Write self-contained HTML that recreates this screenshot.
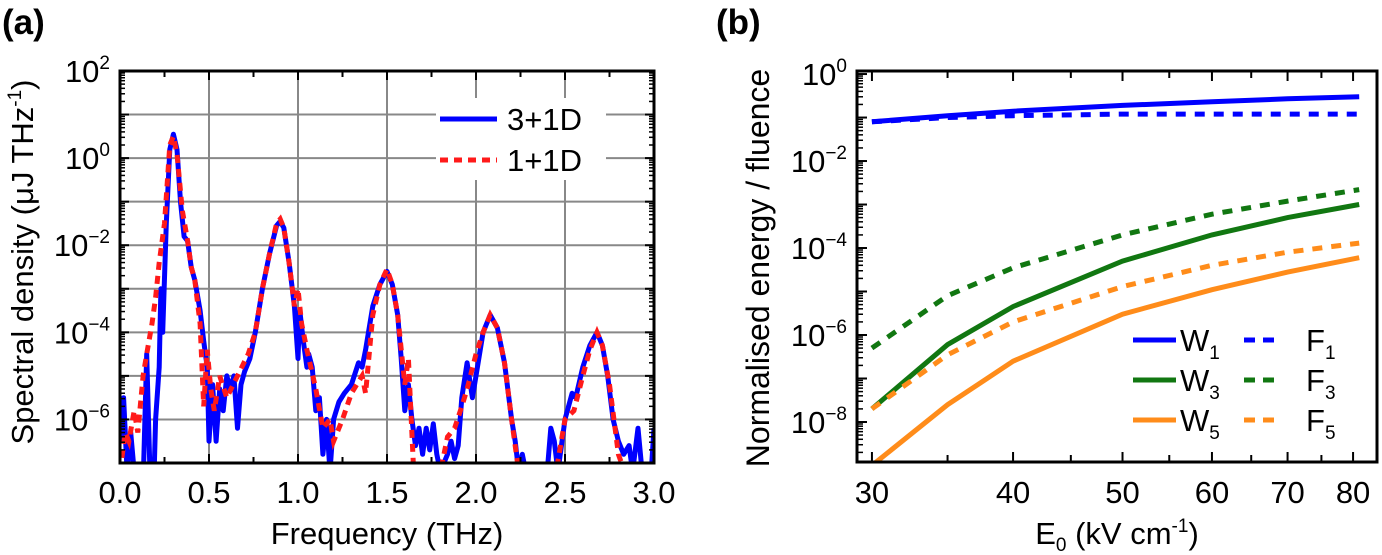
<!DOCTYPE html>
<html><head><meta charset="utf-8"><style>
body{margin:0;background:#fff;}
svg{display:block;font-family:"Liberation Sans",Arial,sans-serif;}
</style></head><body>
<svg id="fig" width="1382" height="555" viewBox="0 0 1382 555">
<defs>
<clipPath id="clipA"><rect x="120" y="71" width="534" height="392"/></clipPath>
<clipPath id="clipB"><rect x="857" y="71" width="520" height="391"/></clipPath>
</defs>
<text x="2" y="34" font-size="35" font-weight="bold">(a)</text>
<text x="716" y="34" font-size="35" font-weight="bold">(b)</text>
<g id="ga"></g>
<g id="gb"></g>
</svg>
<script>
// Panel (a): frequency (THz) and log10 spectral density
const blueF=[0,0.02,0.04,0.06,0.08,0.1,0.13,0.15,0.17,0.19,0.2,0.22,0.23,0.24,0.26,0.28,0.3,0.32,0.34,0.36,0.38,0.4,0.42,0.45,0.47,0.49,0.5,0.52,0.54,0.56,0.58,0.6,0.62,0.64,0.66,0.68,0.7,0.73,0.76,0.8,0.84,0.88,0.9,0.92,0.95,0.98,1.0,1.01,1.03,1.05,1.06,1.08,1.1,1.12,1.14,1.16,1.18,1.2,1.23,1.26,1.3,1.34,1.36,1.38,1.42,1.46,1.5,1.53,1.56,1.58,1.6,1.62,1.64,1.66,1.68,1.7,1.72,1.74,1.76,1.78,1.8,1.84,1.86,1.88,1.9,1.92,1.95,1.98,2.0,2.04,2.08,2.12,2.16,2.2,2.22,2.24,2.26,2.28,2.3,2.38,2.4,2.42,2.44,2.46,2.5,2.54,2.56,2.6,2.64,2.68,2.71,2.74,2.77,2.8,2.83,2.86,2.88,2.91,2.94,2.98,3.0];
const blueV=[-6.5,-5.5,-7.2,-6.3,-7.2,-7.5,-7.5,-4.5,-7.5,-7.5,-6,-4.8,-3.0,-4.0,-1.5,0.2,0.55,0.2,-1.0,-1.8,-1.9,-2.5,-2.8,-3.5,-4.2,-4.8,-6.5,-5.2,-6.5,-5.3,-5.8,-5.0,-5.3,-5.0,-6.2,-5.2,-4.9,-4.6,-4.0,-3.0,-2.2,-1.55,-1.45,-1.6,-2.4,-3.4,-4.6,-3.5,-4.2,-4.8,-4.5,-4.8,-5.8,-5.5,-6.8,-6.0,-7.2,-6.0,-5.6,-5.4,-5.2,-4.7,-4.8,-4.4,-3.4,-2.9,-2.6,-2.9,-3.6,-4.6,-5.8,-5.2,-6.0,-6.6,-6.2,-6.8,-6.2,-6.7,-6.1,-6.8,-7.2,-6.8,-6.5,-6.9,-6.6,-5.5,-4.7,-5.5,-5.0,-4.0,-3.6,-3.9,-4.7,-6.0,-6.5,-7.2,-6.8,-7.2,-7.5,-7.5,-7.2,-6.2,-6.5,-7.2,-6.0,-5.4,-5.5,-4.8,-4.3,-4.0,-4.3,-5.0,-6.0,-6.5,-6.8,-6.6,-7.2,-6.2,-7.5,-7.5,-6.2];
const redF=[0,0.03,0.05,0.08,0.1,0.13,0.15,0.18,0.2,0.22,0.25,0.28,0.3,0.32,0.35,0.38,0.4,0.42,0.45,0.47,0.49,0.51,0.53,0.56,0.6,0.66,0.72,0.76,0.8,0.84,0.88,0.9,0.92,0.95,0.98,1.0,1.02,1.05,1.1,1.14,1.18,1.2,1.25,1.3,1.36,1.38,1.42,1.46,1.5,1.53,1.56,1.6,1.62,1.65,1.7,1.8,1.84,1.88,1.92,1.95,2.0,2.04,2.08,2.12,2.16,2.2,2.25,2.45,2.5,2.55,2.6,2.64,2.68,2.71,2.75,2.8,2.86];
const redV=[-7.2,-6.3,-6.5,-5.8,-6.3,-5.0,-4.5,-3.8,-3.2,-2.4,-1.5,0.3,0.5,0.1,-1.2,-1.9,-2.5,-2.8,-3.8,-5.7,-4.4,-5.3,-5.8,-5.0,-5.5,-5.0,-4.5,-4.0,-3.0,-2.2,-1.5,-1.4,-1.6,-2.4,-3.4,-3.0,-3.8,-4.4,-5.3,-6.2,-6.0,-6.5,-6.0,-5.4,-5.0,-5.4,-3.6,-2.9,-2.55,-2.9,-3.6,-5.2,-4.6,-7.2,-7.5,-7.2,-6.4,-6.2,-5.7,-5.3,-4.5,-4.0,-3.6,-3.9,-4.7,-6.0,-7.5,-7.2,-6.0,-5.8,-5.0,-4.4,-4.0,-4.3,-5.2,-6.8,-7.5];
const aXTicks=[0,0.5,1.0,1.5,2.0,2.5,3.0];
const aXLabels=["0.0","0.5","1.0","1.5","2.0","2.5","3.0"];
const aYDecades=[2,1,0,-1,-2,-3,-4,-5,-6,-7];
const aYLabelExp=[2,0,-2,-4,-6];
// Panel (b)
const bE=[30,35,40,50,60,70,81];
const W1=[0.08,0.11,0.14,0.19,0.23,0.27,0.3];
const F1=[0.08,0.1,0.11,0.12,0.12,0.12,0.12];
const W3=[2e-8,6e-7,4.5e-6,5e-5,2e-4,5e-4,1e-3];
const F3=[5e-7,8e-6,3.5e-5,2e-4,6e-4,1.2e-3,2.2e-3];
const W5=[1e-9,2.5e-8,2.5e-7,3e-6,1.1e-5,2.8e-5,6e-5];
const F5=[2e-8,3.5e-7,2e-6,1.3e-5,4e-5,8e-5,1.3e-4];
const bXTicks=[30,40,50,60,70,80];
const bYLabelExp=[0,-2,-4,-6,-8];

const NS="http://www.w3.org/2000/svg";
const FS=31, SS=19;
function mk(tag,attrs,parent){const e=document.createElementNS(NS,tag);for(const k in attrs)e.setAttribute(k,attrs[k]);parent.appendChild(e);return e;}

// ---------- Panel A ----------
const ga=document.getElementById('ga');
const aL=120,aR=654,aT=71,aB=463;
const ax=f=>aL+(f-0)/3*(aR-aL);
const ay=l=>aT+(2-l)/9*(aB-aT);
for(const d of aYDecades){if(d===2||d===-7)continue;
 const g=mk('line',{x1:aL,x2:aR,y1:ay(d),y2:ay(d),stroke:'#888','stroke-width':2},ga);
 }
for(const t of aXTicks){if(t===0||t===3)continue;
 const g=mk('line',{x1:ax(t),x2:ax(t),y1:aT,y2:aB,stroke:'#888','stroke-width':2},ga);
 }
function pathA(F,V){let s='';for(let i=0;i<F.length;i++)s+=(i?'L':'M')+ax(F[i]).toFixed(1)+','+ay(V[i]).toFixed(1);return s;}
// legend a background (under lines)
const lga=mk('g',{},ga);
mk('rect',{x:436,y:98,width:170,height:82,fill:'#fff'},lga);
const cg=mk('g',{'clip-path':'url(#clipA)'},ga);
const pb=mk('path',{d:pathA(blueF,blueV),fill:'none',stroke:'#0000ff','stroke-width':5,'stroke-linejoin':'round'},cg);

const pr=mk('path',{d:pathA(redF,redV),fill:'none',stroke:'#ff1a1a','stroke-width':5,'stroke-dasharray':'8,6'},cg);

// ticks
for(let t=0;t<=3;t+=0.25){const L=(Math.abs(t*2-Math.round(t*2))<1e-6)?9:6;
 mk('line',{x1:ax(t),x2:ax(t),y1:aB,y2:aB-L,stroke:'#000','stroke-width':2},ga);
 mk('line',{x1:ax(t),x2:ax(t),y1:aT,y2:aT+L,stroke:'#000','stroke-width':2},ga);}
for(let d=2;d>=-7;d--){mk('line',{x1:aL,x2:aL+9,y1:ay(d),y2:ay(d),stroke:'#000','stroke-width':2},ga);
 mk('line',{x1:aR,x2:aR-9,y1:ay(d),y2:ay(d),stroke:'#000','stroke-width':2},ga);
 if(d>-7)for(let m=2;m<=9;m++){const y=ay(d-1+Math.log10(m));
  mk('line',{x1:aL,x2:aL+5,y1:y,y2:y,stroke:'#000','stroke-width':1.5},ga);
  mk('line',{x1:aR,x2:aR-5,y1:y,y2:y,stroke:'#000','stroke-width':1.5},ga);}}
const fa=mk('rect',{x:aL,y:aT,width:aR-aL,height:aB-aT,fill:'none',stroke:'#000','stroke-width':3},ga);

aXTicks.forEach((t,i)=>{const tx=mk('text',{x:ax(t),y:503,'font-size':FS,'text-anchor':'middle'},ga);tx.textContent=aXLabels[i];
 });
for(const e of aYLabelExp){const tx=mk('text',{x:110,y:ay(e)+11,'font-size':FS,'text-anchor':'end'},ga);
 
 tx.textContent='10';const s=mk('tspan',{dy:-13,'font-size':SS},tx);s.textContent=(e<0?'\u2212'+(-e):String(e));}
const xta=mk('text',{x:387,y:544,'font-size':FS,'text-anchor':'middle'},ga);xta.textContent='Frequency (THz)';

const yta=mk('text',{x:0,y:0,'font-size':FS,'text-anchor':'middle',transform:'translate(33,262) rotate(-90)'},ga);

yta.appendChild(document.createTextNode('Spectral density (\u03bcJ THz'));
{const s=mk('tspan',{dy:-12,'font-size':SS},yta);s.textContent='-1';const s2=mk('tspan',{dy:12},yta);s2.textContent=')';}
mk('line',{x1:440,x2:497,y1:119,y2:119,stroke:'#0000ff','stroke-width':5},lga);
mk('line',{x1:440,x2:497,y1:160,y2:160,stroke:'#ff1a1a','stroke-width':5,'stroke-dasharray':'8,6'},lga);
{const t=mk('text',{x:507,y:130,'font-size':FS},lga);t.textContent='3+1D';}
{const t=mk('text',{x:507,y:171,'font-size':FS},lga);t.textContent='1+1D';}

// ---------- Panel B ----------
const gb=document.getElementById('gb');
const bL=857,bR=1377,bT=71,bB=462;
const lx0=Math.log10(29.1),lx1=Math.log10(84);
const bx=e=>bL+(Math.log10(e)-lx0)/(lx1-lx0)*(bR-bL);
const yTop=0.07,yBot=-8.92;
const by=v=>bT+(yTop-Math.log10(v))/(yTop-yBot)*(bB-bT);
const cgb=mk('g',{'clip-path':'url(#clipB)'},gb);
function pathB(Y){let s='';for(let i=0;i<bE.length;i++)s+=(i?'L':'M')+bx(bE[i]).toFixed(1)+','+by(Y[i]).toFixed(1);return s;}
const series=[[W1,'#0000ff',false,'series-w1'],[F1,'#0000ff',true,'series-f1'],[W3,'#117711',false,'series-w3'],[F3,'#117711',true,'series-f3'],[W5,'#ff8c1a',false,'series-w5'],[F5,'#ff8c1a',true,'series-f5']];
for(const [Y,c,dash,name] of series){const a={d:pathB(Y),fill:'none',stroke:c,'stroke-width':5};if(dash)a['stroke-dasharray']='10,9';
 const p=mk('path',a,cgb);}
for(let e=30;e<=80;e+=5){const L=(e%10===0)?10:7;
 mk('line',{x1:bx(e),x2:bx(e),y1:bB,y2:bB-L,stroke:'#000','stroke-width':2},gb);
 mk('line',{x1:bx(e),x2:bx(e),y1:bT,y2:bT+L,stroke:'#000','stroke-width':2},gb);}
for(let d=0;d>=-9;d--){if(d>=yBot){mk('line',{x1:bL,x2:bL+10,y1:by(Math.pow(10,d)),y2:by(Math.pow(10,d)),stroke:'#000','stroke-width':2},gb);}
 for(let m=2;m<=9;m++){const v=m*Math.pow(10,d-1);if(Math.log10(v)<yBot||Math.log10(v)>yTop)continue;
  mk('line',{x1:bL,x2:bL+6,y1:by(v),y2:by(v),stroke:'#000','stroke-width':1.5},gb);}}
const fb=mk('rect',{x:bL,y:bT,width:bR-bL,height:bB-bT,fill:'none',stroke:'#000','stroke-width':3},gb);

for(const t of bXTicks){const tx=mk('text',{x:bx(t),y:503,'font-size':FS,'text-anchor':'middle'},gb);tx.textContent=String(t);
 }
for(const e of bYLabelExp){const tx=mk('text',{x:847,y:by(Math.pow(10,e))+11,'font-size':FS,'text-anchor':'end'},gb);
 
 tx.textContent='10';const s=mk('tspan',{dy:-13,'font-size':SS},tx);s.textContent=(e<0?'\u2212'+(-e):String(e));}
const xtb=mk('text',{x:1117,y:544,'font-size':FS,'text-anchor':'middle'},gb);

xtb.appendChild(document.createTextNode('E'));{const s=mk('tspan',{dy:7,'font-size':SS},xtb);s.textContent='0';const s2=mk('tspan',{dy:-7},xtb);s2.textContent=' (kV cm';const s3=mk('tspan',{dy:-12,'font-size':SS},xtb);s3.textContent='-1';const s4=mk('tspan',{dy:12},xtb);s4.textContent=')';}
const ytb=mk('text',{x:0,y:0,'font-size':FS+1,'text-anchor':'middle',transform:'translate(769,268) rotate(-90)'},gb);
ytb.textContent='Normalised energy / fluence';
// legend b
const lgb=mk('g',{},gb);
const leg=[['W','1','#0000ff',340],['W','3','#117711',380],['W','5','#ff8c1a',420]];
for(const [n,k,c,y] of leg){
 mk('line',{x1:1133,x2:1176,y1:y,y2:y,stroke:c,'stroke-width':5},lgb);
 mk('line',{x1:1244,x2:1280,y1:y,y2:y,stroke:c,'stroke-width':5,'stroke-dasharray':'11,8'},lgb);
 const t1=mk('text',{x:1180,y:y+11,'font-size':FS},lgb);t1.textContent='W';{const s=mk('tspan',{dy:8,'font-size':SS},t1);s.textContent=k;}
 
 const t2=mk('text',{x:1306,y:y+11,'font-size':FS},lgb);t2.textContent='F';{const s=mk('tspan',{dy:8,'font-size':SS},t2);s.textContent=k;}
 }
</script>
</body></html>
